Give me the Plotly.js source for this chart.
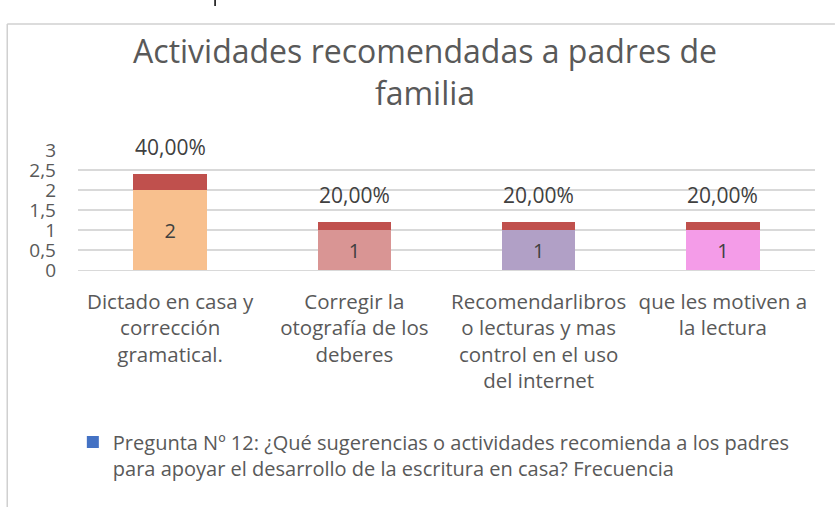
<!DOCTYPE html>
<html><head><meta charset="utf-8">
<script src="https://cdn.plot.ly/plotly-3.0.1.min.js"></script>
<style>html,body{margin:0;padding:0;background:#fff;}#c{width:835px;height:507px;}</style>
</head><body><div id="c"></div>
<script>
var categories = ["Dictado en casa y<br>corrección<br>gramatical.", "Corregir la<br>otografía de los<br>deberes", "Recomendarlibros<br>o lecturas y mas<br>control en el uso<br>del internet", "que les motiven a<br>la lectura"];
var frecuencia = [2, 1, 1, 1];
var porcentaje = [0.4, 0.2, 0.2, 0.2];
var porcentajeLabels = ["40,00%", "20,00%", "20,00%", "20,00%"];
var barColors = ["#F8C08E", "#D99594", "#B1A0C6", "#F49CE8"];
var legendName = "Pregunta Nº 12: ¿Qué sugerencias o actividades recomienda a los padres<br>para apoyar el desarrollo de la escritura en casa? Frecuencia";

var font = "Open Sans, sans-serif";
var traces = [
  {type:'bar', x:categories, y:frecuencia, marker:{color:barColors}, width:0.4,
   text:frecuencia.map(String), textposition:'inside', insidetextanchor:'middle',
   textfont:{family:font, size:20, color:'#404040'}, showlegend:false, hoverinfo:'none'},
  {type:'bar', x:categories, y:porcentaje, marker:{color:'#C0504D'}, width:0.4, showlegend:false, hoverinfo:'none'},
  {type:'bar', x:[categories[0]], y:[0], marker:{color:'#4472C4'}, width:0.4, name:legendName, showlegend:true, hoverinfo:'none'}
];
var annotations = categories.map(function(c,i){
  return {x:c, y:frecuencia[i]+porcentaje[i], text:porcentajeLabels[i], showarrow:false, yshift:27,
          font:{family:font, size:21, color:'#404040'}};
});
var layout = {
  width:835, height:507, paper_bgcolor:'#fff', plot_bgcolor:'#fff',
  margin:{l:78, r:20, t:150, b:237},
  barmode:'stack', separators:',.',
  title:{text:"Actividades recomendadas a padres de<br>familia", font:{family:font, size:32, color:'#595959'},
         x:0.509, xref:'container', xanchor:'center', y:0.875, yanchor:'top', yref:'container'},
  xaxis:{showgrid:false, showline:false, zeroline:false, ticks:'', tickangle:0,
         tickfont:{family:font, size:20.5, color:'#595959'}, ticklabelstandoff:17},
  yaxis:{range:[0,3], dtick:0.5, showgrid:true, gridcolor:'#D9D9D9', gridwidth:1.3, zeroline:true, zerolinecolor:'#D9D9D9',
         showline:false, ticks:'', tickfont:{family:font, size:19, color:'#595959'}, ticklabelstandoff:21},
  legend:{x:-0.007, xanchor:'left', y:-1.27, yanchor:'top', valign:'top', orientation:'v',
          font:{family:font, size:20, color:'#595959'}, bgcolor:'rgba(0,0,0,0)'},
  annotations:annotations,
  shapes:[
    {type:'line', xref:'paper', yref:'paper', x0:-0.096, x1:1.027, y0:2.05, y1:2.05, line:{color:'#D0D0D0', width:1.5}},
    {type:'line', xref:'paper', yref:'paper', x0:-0.096, x1:-0.096, y0:2.05, y1:-1.98, line:{color:'#D0D0D0', width:1.5}},
    {type:'line', xref:'paper', yref:'paper', x0:0.186, x1:0.186, y0:2.25, y1:2.2, line:{color:'#000', width:1.5}}
  ]
};
Plotly.newPlot('c', traces, layout, {staticPlot:true});
</script></body></html>
